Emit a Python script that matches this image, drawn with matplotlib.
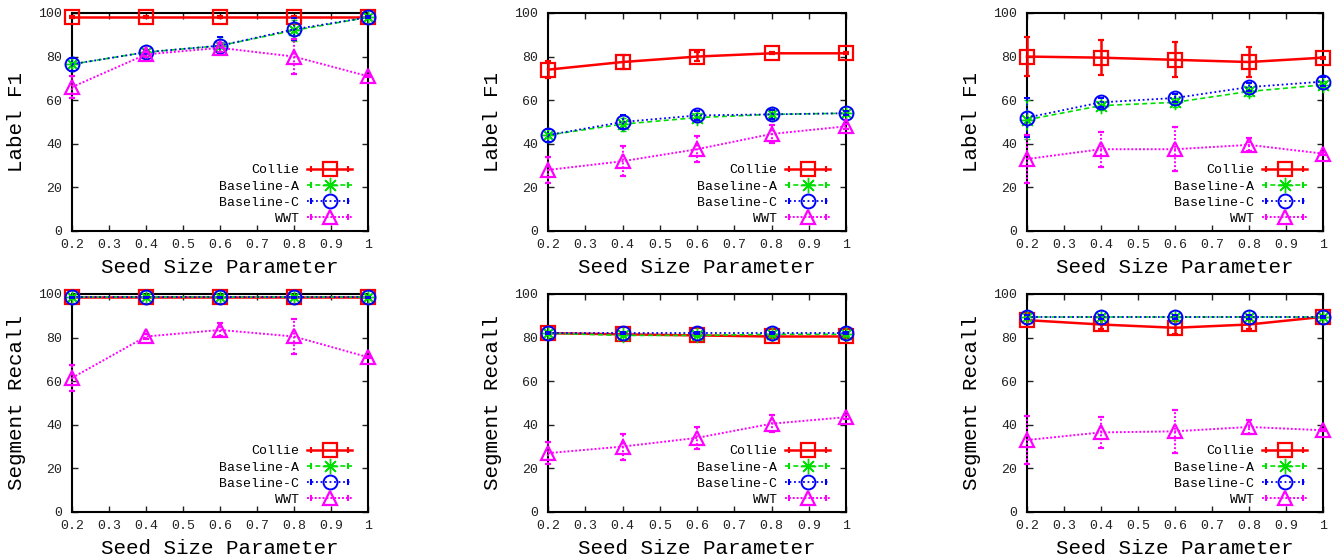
import numpy as np
import matplotlib
matplotlib.use("Agg")
import matplotlib.pyplot as plt
from matplotlib.lines import Line2D
from matplotlib.legend_handler import HandlerLine2D, HandlerTuple

plt.rcParams['font.family'] = ['Liberation Mono', 'DejaVu Sans Mono']

seed = [0.2, 0.4, 0.6, 0.8, 1.0]
xticks = [0.2, 0.3, 0.4, 0.5, 0.6, 0.7, 0.8, 0.9, 1.0]
xticklabels = ['0.2', '0.3', '0.4', '0.5', '0.6', '0.7', '0.8', '0.9', '1']
yticks = [0, 20, 40, 60, 80, 100]

methods = ['Collie', 'Baseline-A', 'Baseline-C', 'WWT']

# label F1, three datasets (mean, error)
f1_collie = [[98, 98, 98, 98, 98], [74, 77.5, 80, 81.5, 81.5], [80, 79.5, 78.5, 77.5, 79.5]]
f1_collie_err = [[0.5, 0.5, 0.5, 0.5, 0.5], [4, 3, 2, 0.5, 0.5], [9, 8, 8, 7, 0.5]]
f1_base_a = [[76.5, 82, 85, 92, 98], [44, 49, 52, 53.5, 54], [51, 57.5, 59, 64, 67]]
f1_base_a_err = [[3, 1, 4, 5, 0.5], [3, 3, 2, 2, 1], [9, 2, 2, 2, 2]]
f1_base_c = [[76.5, 82, 85, 92.5, 98], [44, 50, 53, 53.5, 54], [52, 59, 61, 66, 68.5]]
f1_base_c_err = [[3, 1, 4, 5, 0.5], [3, 3, 2, 2, 1], [9, 2, 2, 2, 2]]
f1_wwt = [[66, 81, 84, 80, 71], [28, 32, 37.5, 44.5, 48], [33, 37.5, 37.5, 39.5, 35.5]]
f1_wwt_err = [[5, 1, 2, 8, 0.5], [6, 7, 6, 4, 1], [11, 8, 10, 3, 0.5]]

# segment recall, three datasets
sr_collie = [[98.5, 98.5, 98.5, 98.5, 98.5], [82, 81.5, 81, 80.5, 80.5], [88, 86, 84.5, 86, 89.5]]
sr_collie_err = [[0.3, 0.3, 0.3, 0.3, 0.3], [0.5, 0.5, 0.5, 0.5, 0.5], [2, 2, 3, 2, 0.5]]
sr_base_a = [[98.5, 98.5, 98.5, 98.5, 98.5], [82, 81, 81, 81.5, 81.5], [89.5, 89.5, 89.5, 89.5, 89.5]]
sr_base_a_err = [[0.3, 0.3, 0.3, 0.3, 0.3], [0.5, 0.5, 0.5, 0.5, 0.5], [1, 1, 1, 1, 0.5]]
sr_base_c = [[98.5, 98.5, 98.5, 98.5, 98.5], [82, 82, 82, 82, 82], [89.5, 89.5, 89.5, 89.5, 89.5]]
sr_base_c_err = [[0.3, 0.3, 0.3, 0.3, 0.3], [0.5, 0.5, 0.5, 0.5, 0.5], [1, 1, 1, 1, 0.5]]
sr_wwt = [[61.5, 80.5, 83.5, 80.5, 71], [27, 30, 34, 40.5, 43.5], [33, 36.5, 37, 39, 37.5]]
sr_wwt_err = [[6, 1, 3, 8, 0.5], [5, 6, 5, 4, 1], [11, 7, 10, 3, 0.5]]

colors = ['#ff0000', '#00e000', '#0000ff', '#ff00ff']
styles = ['-', (0, (3, 2)), (0, (1, 1.5)), (0, (1, 1))]
markers = ['s', (8, 2, 0), 'o', '^']
msizes = [10, 11, 10, 10]
mews = [1.6, 1.0, 1.4, 1.6]
lws = [1.8, 1.2, 1.3, 1.4]

rows = [
    ('Label F1', [f1_collie, f1_base_a, f1_base_c, f1_wwt],
     [f1_collie_err, f1_base_a_err, f1_base_c_err, f1_wwt_err]),
    ('Segment Recall', [sr_collie, sr_base_a, sr_base_c, sr_wwt],
     [sr_collie_err, sr_base_a_err, sr_base_c_err, sr_wwt_err]),
]

fig = plt.figure(figsize=(13.41, 5.59), dpi=100)
lefts = [0.0537, 0.4087, 0.7658]
widths = [0.2207, 0.2222, 0.2207]
bottoms = [0.5868, 0.0841]
height = 0.3900

for r, (ylab, series, errs) in enumerate(rows):
    for c in range(3):
        ax = fig.add_axes([lefts[c], bottoms[r], widths[c], height])
        handles = []
        for k in range(4):
            eb = ax.errorbar(seed, series[k][c], yerr=errs[k][c], color=colors[k],
                             ls=styles[k], lw=lws[k], marker=markers[k], ms=msizes[k],
                             mfc='none', mew=mews[k], capsize=2, elinewidth=lws[k],
                             clip_on=False, zorder=3 + k)
            for part in eb.lines[1]:
                part.set_clip_on(False)
            for part in eb.lines[2]:
                part.set_clip_on(False)
                part.set_linestyle(styles[k])
            main = Line2D([], [], color=colors[k], ls=styles[k], lw=lws[k],
                          marker=markers[k], ms=msizes[k], mfc='none', mew=mews[k])
            caps = Line2D([], [], color=colors[k], ls='none', marker='|', ms=5, mew=1.5)
            handles.append((main, caps))
        ax.set_xlim(0.2, 1.0)
        ax.set_ylim(0, 100)
        ax.set_xticks(xticks)
        ax.set_xticklabels(xticklabels)
        ax.set_yticks(yticks)
        ax.tick_params(direction='in', length=4, width=1, top=True, right=True,
                       labelsize=9.5, colors='#222222')
        ax.tick_params(axis='y', pad=7)
        ax.tick_params(axis='x', pad=6)
        for sp in ax.spines.values():
            sp.set_linewidth(1.5)
        ax.set_ylabel(ylab, fontsize=15, labelpad=9)
        ax.set_xlabel('Seed Size Parameter', fontsize=15, labelpad=5)
        hmap = {h[1]: HandlerLine2D(numpoints=2) for h in handles}
        hmap[tuple] = HandlerTuple(ndivide=1)
        ax.legend(handles, methods, loc='lower right', bbox_to_anchor=(0.964, 0.003),
                  frameon=False, markerfirst=False, fontsize=9.5, handlelength=3.4,
                  labelspacing=0.3, handletextpad=0.6, borderaxespad=0, numpoints=1,
                  handler_map=hmap)

fig.savefig('out.png', dpi=100)
